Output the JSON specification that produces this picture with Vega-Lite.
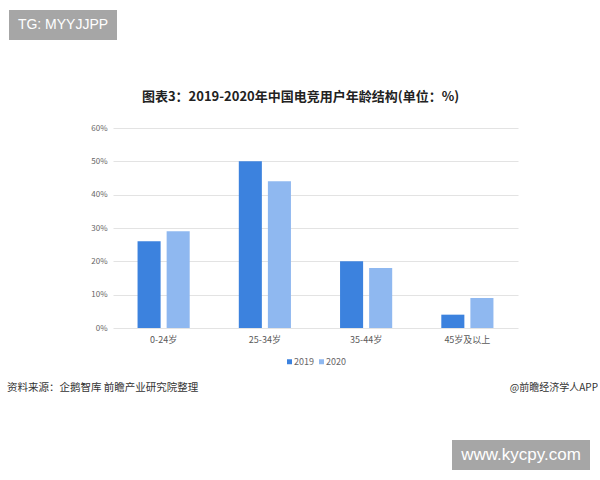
{
  "$schema": "https://vega.github.io/schema/vega-lite/v6.json",
  "background": "white",
  "padding": {"left": 5, "top": 10, "right": 0, "bottom": 0},
  "spacing": 0,
  "resolve": {"legend": {"color": "independent"}},
  "config": {
    "view": {"stroke": null},
    "font": "Noto Sans CJK SC",
    "legend": {"layout": {"bottom": {"anchor": "middle"}}}
  },
  "vconcat": [
    {
      "hconcat": [
        {"width": 4, "height": 30, "view": {"fill": "transparent", "stroke": null}, "data": {"values": []}, "mark": "text"},
        {
          "width": 108, "height": 30,
          "view": {"fill": "#a6a6a6", "stroke": null},
          "data": {"values": [{"t": "TG: MYYJJPP"}]},
          "mark": {"type": "text", "color": "#ffffff", "font": "Liberation Sans", "fontSize": 14, "baseline": "middle", "align": "center"},
          "encoding": {"text": {"field": "t"}}
        }
      ],
      "spacing": 0,
      "bounds": "flush"
    },
    {"width": 1, "height": 51, "view": {"fill": "transparent", "stroke": null}, "data": {"values": []}, "mark": "text"},
    {
      "hconcat": [
        {"width": 108, "height": 200, "view": {"fill": "transparent", "stroke": null}, "data": {"values": []}, "mark": "text"},
        {
          "width": 405, "height": 200,
          "title": {
            "text": "图表3：2019-2020年中国电竞用户年龄结构(单位：%)",
            "font": "Noto Sans CJK SC", "fontSize": 13, "fontWeight": "bold", "color": "#222222",
            "anchor": "middle", "frame": "group", "dx": -15, "offset": 20
          },
          "data": {"values": [
            {"age": "0-24岁", "year": "2019", "pct": 26},
            {"age": "0-24岁", "year": "2020", "pct": 29},
            {"age": "25-34岁", "year": "2019", "pct": 50},
            {"age": "25-34岁", "year": "2020", "pct": 44},
            {"age": "35-44岁", "year": "2019", "pct": 20},
            {"age": "35-44岁", "year": "2020", "pct": 18},
            {"age": "45岁及以上", "year": "2019", "pct": 4},
            {"age": "45岁及以上", "year": "2020", "pct": 9}
          ]},
          "mark": {"type": "bar"},
          "encoding": {
            "x": {
              "field": "age", "type": "nominal",
              "sort": ["0-24岁", "25-34岁", "35-44岁", "45岁及以上"],
              "scale": {"paddingInner": 0.485, "paddingOuter": 0.2425},
              "axis": {"title": null, "labelAngle": 0, "domain": false, "ticks": false, "labelFontSize": 9, "labelColor": "#595959", "labelPadding": 7, "labelFont": "Noto Sans CJK SC"}
            },
            "xOffset": {
              "field": "year", "type": "nominal",
              "scale": {"paddingInner": 0.207, "paddingOuter": 0}
            },
            "y": {
              "field": "pct", "type": "quantitative",
              "scale": {"domain": [0, 60], "nice": false},
              "axis": {"title": null, "values": [0, 10, 20, 30, 40, 50, 60], "labelExpr": "datum.value + '%'", "grid": true, "gridColor": "#e3e3e3", "domain": false, "ticks": false, "labelFontSize": 8, "labelColor": "#666666", "labelPadding": 6, "labelFont": "Noto Sans CJK SC"}
            },
            "color": {
              "field": "year", "type": "nominal",
              "scale": {"domain": ["2019", "2020"], "range": ["#3c82de", "#8fb8f0"]},
              "legend": {"orient": "bottom", "direction": "horizontal", "title": null, "symbolType": "square", "symbolSize": 25, "labelFontSize": 9, "labelColor": "#666666", "labelOffset": 0, "columnPadding": 3, "offset": 13, "labelFont": "Noto Sans CJK SC"}
            }
          }
        }
      ],
      "spacing": 0,
      "bounds": "flush",
      "resolve": {"legend": {"color": "independent"}}
    },
    {
      "width": 593, "height": 42,
      "view": {"fill": "transparent", "stroke": null},
      "data": {"values": [
        {"pos": 0, "side": "left", "t": "资料来源：企鹅智库 前瞻产业研究院整理"},
        {"pos": 1, "side": "right", "t": "@前瞻经济学人APP"}
      ]},
      "layer": [
        {
          "transform": [{"filter": "datum.side == 'left'"}],
          "mark": {"type": "text", "align": "left", "baseline": "middle", "fontSize": 10.5, "color": "#333333", "font": "Noto Sans CJK SC", "dx": 2},
          "encoding": {
            "x": {"field": "pos", "type": "quantitative", "scale": {"domain": [0, 1], "nice": false, "zero": false}, "axis": null},
            "text": {"field": "t"}
          }
        },
        {
          "transform": [{"filter": "datum.side == 'right'"}],
          "mark": {"type": "text", "align": "right", "baseline": "middle", "fontSize": 10, "color": "#333333", "font": "Noto Sans CJK SC"},
          "encoding": {
            "x": {"field": "pos", "type": "quantitative", "scale": {"domain": [0, 1], "nice": false, "zero": false}, "axis": null},
            "text": {"field": "t"}
          }
        }
      ]
    },
    {"width": 1, "height": 31, "view": {"fill": "transparent", "stroke": null}, "data": {"values": []}, "mark": "text"},
    {
      "hconcat": [
        {"width": 447, "height": 30, "view": {"fill": "transparent", "stroke": null}, "data": {"values": []}, "mark": "text"},
        {
          "width": 138, "height": 30,
          "view": {"fill": "#a6a6a6", "stroke": null},
          "data": {"values": [{"t": "www.kycpy.com"}]},
          "mark": {"type": "text", "color": "#ffffff", "font": "Liberation Sans", "fontSize": 17, "baseline": "middle", "align": "center"},
          "encoding": {"text": {"field": "t"}}
        }
      ],
      "spacing": 0,
      "bounds": "flush"
    }
  ]
}
